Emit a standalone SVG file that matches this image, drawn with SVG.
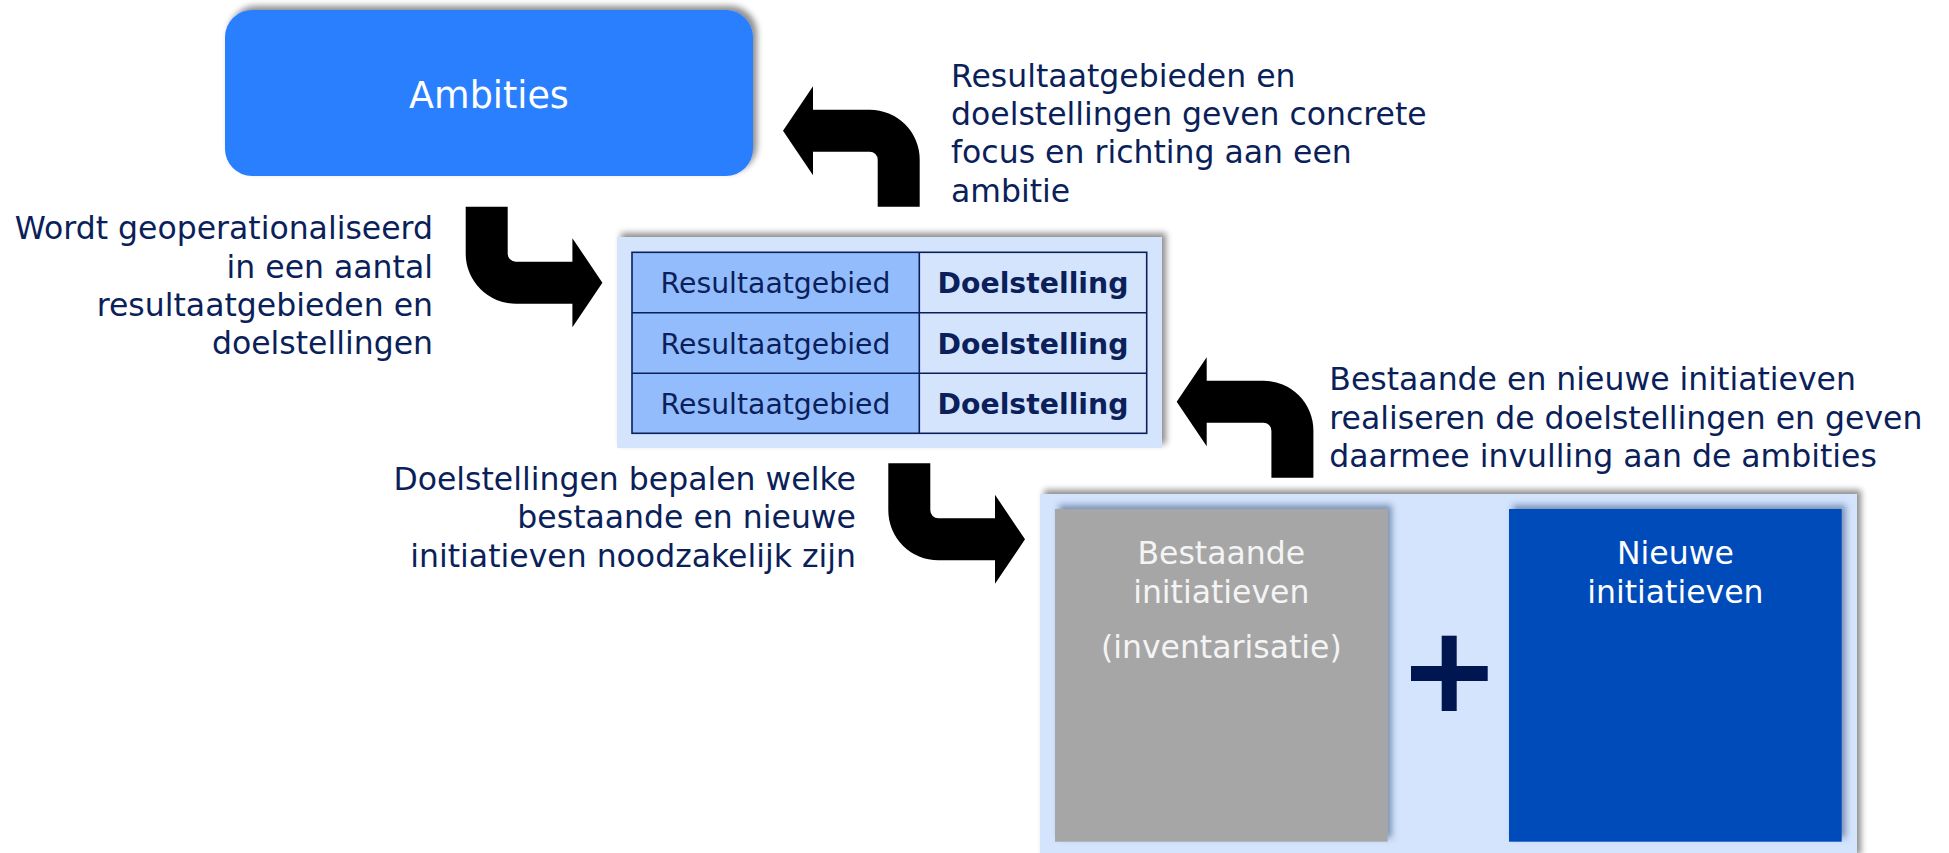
<svg xmlns="http://www.w3.org/2000/svg" width="1949" height="853" viewBox="0 0 1949 853">
<style>
  text { font-family: "DejaVu Sans", Verdana, sans-serif; }
  .lbl { font-size: 31.5px; fill: #0B1F5A; }
  .end { text-anchor: end; }
  .cell { font-size: 28.3px; fill: #0B1F5A; text-anchor: middle; }
  .bold { font-weight: bold; }
  .white { fill: #FFFFFF; font-size: 31.5px; text-anchor: middle; }
  .arrow { fill: #000000; }
  .grid { fill: none; stroke: #0B1F5A; stroke-width: 1.6; }
</style>
<defs>
  <filter id="sh" x="-10%" y="-20%" width="125%" height="140%">
    <feDropShadow dx="4" dy="-4" stdDeviation="3" flood-color="#000000" flood-opacity="0.45"/>
  </filter>
  <filter id="shin" x="-10%" y="-10%" width="125%" height="125%">
    <feDropShadow dx="4" dy="-4" stdDeviation="3" flood-color="#1F3A6B" flood-opacity="0.5"/>
  </filter>
  <path id="bend" d="M 0 0 L 30 -44.5 L 30 -21 L 86.7 -21 A 50 50 0 0 1 136.7 29 L 136.7 76 L 94.7 76 L 94.7 29 A 8 8 0 0 0 86.7 21 L 30 21 L 30 44.5 Z"/>
</defs>

<g id="ambities">
  <rect x="225" y="10" width="528" height="166" rx="27" ry="27" fill="#2A7FFF" filter="url(#sh)"/>
  <text x="489" y="108" class="white" style="font-size:36.5px">Ambities</text>
</g>

<g id="doelen">
  <rect x="617" y="237" width="545" height="211" fill="#D4E4FD" filter="url(#sh)"/>
  <rect x="632" y="252.3" width="287.3" height="181" fill="#93BCFD"/>
  <rect x="632" y="252.3" width="514.7" height="181" class="grid"/>
  <line x1="919.3" y1="252.3" x2="919.3" y2="433.3" class="grid"/>
  <line x1="632" y1="312.7" x2="1146.7" y2="312.7" class="grid"/>
  <line x1="632" y1="373.3" x2="1146.7" y2="373.3" class="grid"/>
  <text x="775.5" y="293.3" class="cell">Resultaatgebied</text>
  <text x="775.5" y="354" class="cell">Resultaatgebied</text>
  <text x="775.5" y="414.3" class="cell">Resultaatgebied</text>
  <text x="1033" y="293.3" class="cell bold">Doelstelling</text>
  <text x="1033" y="354" class="cell bold">Doelstelling</text>
  <text x="1033" y="414.3" class="cell bold">Doelstelling</text>
</g>

<g id="initiatieven">
  <rect x="1040" y="494" width="817" height="365" fill="#D4E4FD" filter="url(#sh)"/>
  <g id="bestaande">
    <rect x="1055" y="509" width="332.7" height="332.7" fill="#A6A6A6" filter="url(#shin)"/>
    <text x="1221.3" y="564" class="white" style="fill:#F4F4F4">Bestaande</text>
    <text x="1221.3" y="603.3" class="white" style="fill:#F4F4F4">initiatieven</text>
    <text x="1221.3" y="658" class="white" style="fill:#F4F4F4">(inventarisatie)</text>
  </g>
  <g id="plus">
    <rect x="1441.7" y="635.7" width="15" height="75.3" fill="#001650"/>
    <rect x="1411" y="666" width="76.7" height="15" fill="#001650"/>
  </g>
  <g id="nieuwe">
    <rect x="1509" y="509" width="332.7" height="332.7" fill="#004CBA" filter="url(#shin)"/>
    <text x="1675.4" y="564" class="white">Nieuwe</text>
    <text x="1675.4" y="603.3" class="white">initiatieven</text>
  </g>
</g>

<g id="connectors">
  <use href="#bend" class="arrow" transform="translate(602.4,282.7) rotate(180)"/>
  <use href="#bend" class="arrow" transform="translate(783,130.7)"/>
  <use href="#bend" class="arrow" transform="translate(1176.7,401.7)"/>
  <use href="#bend" class="arrow" transform="translate(1025,539.3) rotate(180)"/>
</g>

<g id="labels">
  <text class="lbl end" x="433" y="239.3">Wordt geoperationaliseerd</text>
  <text class="lbl end" x="433" y="277.7">in een aantal</text>
  <text class="lbl end" x="433" y="315.7">resultaatgebieden en</text>
  <text class="lbl end" x="433" y="353.5">doelstellingen</text>

  <text class="lbl" x="951" y="87">Resultaatgebieden en</text>
  <text class="lbl" x="951" y="125">doelstellingen geven concrete</text>
  <text class="lbl" x="951" y="163.3">focus en richting aan een</text>
  <text class="lbl" x="951" y="201.7">ambitie</text>

  <text class="lbl end" x="856" y="489.5">Doelstellingen bepalen welke</text>
  <text class="lbl end" x="856" y="528">bestaande en nieuwe</text>
  <text class="lbl end" x="856" y="566.5">initiatieven noodzakelijk zijn</text>

  <text class="lbl" x="1329.3" y="390">Bestaande en nieuwe initiatieven</text>
  <text class="lbl" x="1329.3" y="428.5">realiseren de doelstellingen en geven</text>
  <text class="lbl" x="1329.3" y="466.7">daarmee invulling aan de ambities</text>
</g>
</svg>
